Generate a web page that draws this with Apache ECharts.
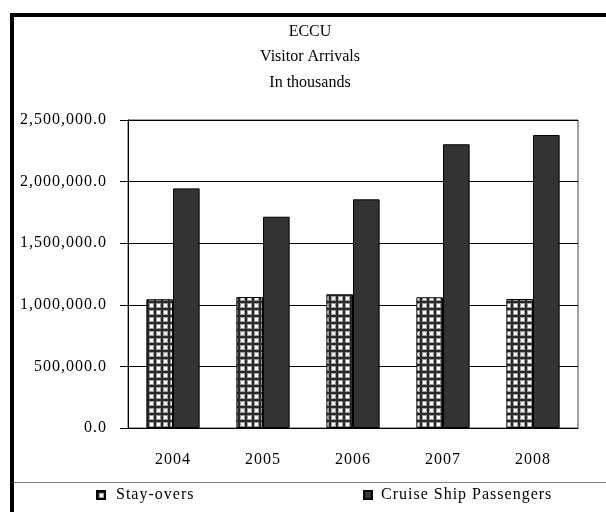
<!DOCTYPE html>
<html>
<head>
<meta charset="utf-8">
<script src="https://cdn.jsdelivr.net/npm/echarts@6/dist/echarts.min.js"></script>
<style>
  html, body { margin: 0; padding: 0; background: #fff; }
  #chart { width: 606px; height: 512px; }
</style>
</head>
<body>
<div id="chart"></div>
<script>
// Visitor arrivals to the ECCU, 2004-2008
const years = ['2004', '2005', '2006', '2007', '2008'];
const stayOvers = [1045000, 1063000, 1085000, 1061000, 1047000];
const cruisePassengers = [1945000, 1715000, 1856000, 2303000, 2378000];
const titleLines = ['ECCU', 'Visitor Arrivals', 'In thousands'];
const seriesNames = ['Stay-overs', 'Cruise Ship Passengers'];

const FONT = '"Liberation Serif", "Times New Roman", serif';

// Axis and legend labels are set slightly looser than the title lines.
(function () {
  const proto = CanvasRenderingContext2D.prototype;
  const fill = proto.fillText;
  proto.fillText = function (text, x, y, maxW) {
    if ('letterSpacing' in this) {
      this.letterSpacing = titleLines.indexOf(String(text)) >= 0 ? '0px' : '1px';
    }
    return maxW === undefined ? fill.call(this, text, x, y) : fill.call(this, text, x, y, maxW);
  };
})();

// Grid-hatch fill for the stay-over bars
function makeGridTile() {
  const c = document.createElement('canvas');
  c.width = 7; c.height = 7;
  const g = c.getContext('2d');
  g.fillStyle = '#ffffff';
  g.fillRect(0, 0, 7, 7);
  g.fillStyle = '#999999';
  g.fillRect(0, 2, 7, 1);
  g.fillRect(2, 0, 1, 7);
  g.fillRect(0, 6, 7, 1);
  g.fillRect(6, 0, 1, 7);
  g.fillStyle = '#2a2a2a';
  g.fillRect(0, 0, 7, 2);
  g.fillRect(0, 0, 2, 7);
  return c;
}
const gridPattern = { image: makeGridTile(), repeat: 'repeat' };

function fmt(v) {
  return v.toLocaleString('en-US', { minimumFractionDigits: 1, maximumFractionDigits: 1 });
}

const chart = echarts.init(document.getElementById('chart'), null, { renderer: 'canvas' });

chart.setOption({
  backgroundColor: '#ffffff',
  animation: false,
  title: {
    text: titleLines.join('\n'),
    left: 305,
    top: 14,
    textAlign: 'center',
    textStyle: {
      fontFamily: FONT,
      fontSize: 16,
      fontWeight: 'normal',
      color: '#000',
      lineHeight: 25.5
    }
  },
  grid: {
    left: 128,
    top: 120,
    right: 28,
    bottom: 84,
    show: true,
    borderColor: '#444',
    borderWidth: 1,
    containLabel: false
  },
  legend: [
    {
      data: [seriesNames[0]],
      left: 96,
      top: 487,
      padding: 0,
      itemWidth: 8,
      itemHeight: 8,
      icon: 'rect',
      textStyle: { fontFamily: FONT, fontSize: 16, color: '#000', padding: [0, 0, 0, 6] }
    },
    {
      data: [seriesNames[1]],
      left: 363,
      top: 487,
      padding: 0,
      itemWidth: 8,
      itemHeight: 8,
      icon: 'rect',
      textStyle: { fontFamily: FONT, fontSize: 16, color: '#000', padding: [0, 0, 0, 4] }
    }
  ],
  xAxis: {
    type: 'category',
    data: years,
    axisLine: { show: true, lineStyle: { color: '#000', width: 1 } },
    axisTick: { show: false },
    axisLabel: { fontFamily: FONT, fontSize: 16, color: '#000', margin: 24 },
    splitLine: { show: false }
  },
  yAxis: {
    type: 'value',
    min: 0,
    max: 2500000,
    interval: 500000,
    axisLine: { show: true, lineStyle: { color: '#000', width: 1 } },
    axisTick: { show: true, inside: false, length: 8, lineStyle: { color: '#000' } },
    axisLabel: { fontFamily: FONT, fontSize: 16, color: '#000', margin: 21, formatter: fmt },
    splitLine: { show: true, lineStyle: { color: '#000', width: 1 } }
  },
  series: [
    {
      name: seriesNames[0],
      type: 'bar',
      data: stayOvers,
      barWidth: '29.6%',
      barGap: '0%',
      itemStyle: { color: gridPattern, borderColor: '#000', borderWidth: 1 }
    },
    {
      name: seriesNames[1],
      type: 'bar',
      data: cruisePassengers,
      barWidth: '29.6%',
      barGap: '0%',
      itemStyle: { color: '#333333', borderColor: '#000', borderWidth: 1 }
    }
  ],
  graphic: [
    // outer chart frame (heavy left and top edges) and legend separator
    { type: 'line', shape: { x1: 12, y1: 13, x2: 12, y2: 512 }, style: { stroke: '#000', lineWidth: 4 }, silent: true },
    { type: 'line', shape: { x1: 10, y1: 15, x2: 606, y2: 15 }, style: { stroke: '#000', lineWidth: 4 }, silent: true },
    { type: 'line', shape: { x1: 14, y1: 482.5, x2: 606, y2: 482.5 }, style: { stroke: '#808080', lineWidth: 1 }, silent: true }
  ]
});
</script>
</body>
</html>
